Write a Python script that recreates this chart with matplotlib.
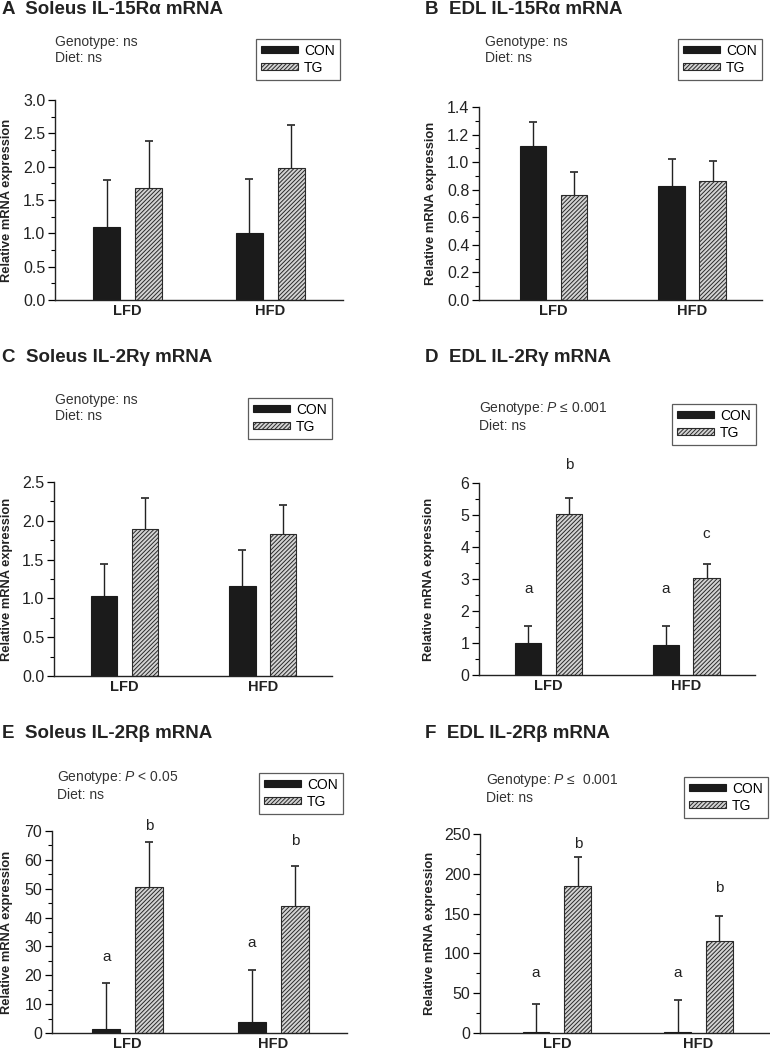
"""
Cytokine receptor mRNA in soleus and EDL muscle, CON vs TG mice on LFD / HFD
"""
import matplotlib
matplotlib.use('Agg')
import matplotlib.pyplot as plt
from matplotlib.patches import Patch

plt.rcParams['font.family'] = ['Liberation Sans', 'DejaVu Sans']
plt.rcParams['mathtext.fontset'] = 'custom'
plt.rcParams['mathtext.it'] = 'Liberation Sans:italic'
plt.rcParams['mathtext.rm'] = 'Liberation Sans'
plt.rcParams['hatch.linewidth'] = 0.7

### ------------------------------- ###
###             0. Data             ###
### ------------------------------- ###

diets = ['LFD', 'HFD']
genotypes = ['CON', 'TG']

titles = ['A  Soleus IL-15R\u03b1 mRNA', 'B  EDL IL-15R\u03b1 mRNA',
          'C  Soleus IL-2R\u03b3 mRNA', 'D  EDL IL-2R\u03b3 mRNA',
          'E  Soleus IL-2R\u03b2 mRNA', 'F  EDL IL-2R\u03b2 mRNA']
stats = ['Genotype: ns\nDiet: ns', 'Genotype: ns\nDiet: ns',
         'Genotype: ns\nDiet: ns', 'Genotype: $P$ \u2264 0.001\nDiet: ns',
         'Genotype: $P$ < 0.05\nDiet: ns', 'Genotype: $P$ \u2264  0.001\nDiet: ns']

# means (LFD, HFD) and upper error-bar tips
con_mean = [[1.10, 1.00], [1.12, 0.83], [1.03, 1.16], [1.00, 0.93], [1.5, 3.7], [1.5, 1.5]]
con_top = [[1.80, 1.82], [1.29, 1.02], [1.44, 1.63], [1.53, 1.53], [17.2, 21.7], [37, 42]]
tg_mean = [[1.68, 1.98], [0.76, 0.86], [1.89, 1.83], [5.02, 3.02], [50.7, 44.0], [185, 115]]
tg_top = [[2.39, 2.62], [0.93, 1.01], [2.30, 2.20], [5.52, 3.48], [66.3, 58.0], [221, 147]]

# significance letters (CON, TG) per diet, with heights in data units
con_letters = [None, None, None, ['a', 'a'], ['a', 'a'], ['a', 'a']]
tg_letters = [None, None, None, ['b', 'c'], ['b', 'b'], ['b', 'b']]
con_letter_y = [None, None, None, [2.7, 2.7], [26.3, 31.2], [75, 75]]
tg_letter_y = [None, None, None, [6.55, 4.4], [71.7, 66.5], [237, 182]]

y_max = [3.0, 1.4, 2.5, 6, 70, 250]
y_step = [0.5, 0.2, 0.5, 1, 10, 50]
y_fmt = ['%.1f', '%.1f', '%.1f', '%d', '%d', '%d']

### ------------------------------- ###
###            1. Layout            ###
### ------------------------------- ###

W, H = 770, 1050
# axes boxes in pixels: left, top, right, bottom
boxes = [(55, 100, 343, 300), (479, 107, 762, 300),
         (54, 482, 332, 676), (479, 483, 755, 675),
         (52, 831, 347, 1033), (480, 834, 770, 1033)]
xlims = [(-0.51, 1.51), (-0.54, 1.505), (-0.51, 1.50),
         (-0.505, 1.50), (-0.52, 1.505), (-0.544, 1.505)]
title_pos = [(2, 10), (425, 10), (2, 357), (425, 358), (2, 734), (425, 734)]
stat_pos = [(55, 35), (485, 35), (55, 393), (479, 400), (57, 769), (486, 772)]
legend_pos = [(256, 39), (678, 39), (248, 398), (672, 404), (259, 773), (684, 777)]
ylabel_x = [13, 437, 13, 435, 13, 436]

fig = plt.figure(figsize=(W / 100, H / 100), dpi=100)

con_style = dict(facecolor='#1b1b1b', edgecolor='#1b1b1b', linewidth=0.8)
tg_style = dict(facecolor='#d4d4d4', edgecolor='#2a2a2a', hatch='////////', linewidth=0.8)
err_style = dict(fmt='none', ecolor='#222222', elinewidth=1.0, capsize=3, capthick=1.2)

bw = 0.19
off = 0.148
x = [0, 1]

for i in range(6):
    l, t, r, b = boxes[i]
    ax = fig.add_axes([l / W, 1 - b / H, (r - l) / W, (b - t) / H])

    xc = [xi - off for xi in x]
    xt = [xi + off for xi in x]
    ax.bar(xc, con_mean[i], width=bw, zorder=2, **con_style)
    ax.bar(xt, tg_mean[i], width=bw, zorder=2, **tg_style)
    for xs, m, tp in [(xc, con_mean[i], con_top[i]), (xt, tg_mean[i], tg_top[i])]:
        eb = ax.errorbar(xs, m, yerr=[[0, 0], [tt - mm for tt, mm in zip(tp, m)]],
                         zorder=1, **err_style)
        eb[1][0].set_visible(False)  # hide lower caps

    if con_letters[i]:
        for j in range(2):
            ax.text(xc[j], con_letter_y[i][j], con_letters[i][j], ha='center', va='center',
                    fontsize=11, clip_on=False, color='#222222')
            ax.text(xt[j], tg_letter_y[i][j], tg_letters[i][j], ha='center', va='center',
                    fontsize=11, clip_on=False, color='#222222')

    # axes styling
    ax.set_xlim(*xlims[i])
    ax.set_ylim(0, y_max[i])
    n = int(round(y_max[i] / y_step[i]))
    ticks = [k * y_step[i] for k in range(n + 1)]
    ax.set_yticks(ticks)
    ax.set_yticklabels([y_fmt[i] % v for v in ticks], fontsize=11.5, color='#222222')
    ax.set_yticks([(k + 0.5) * y_step[i] for k in range(n)], minor=True)
    ax.tick_params(axis='y', which='major', direction='out', length=5, width=0.9, pad=2)
    ax.tick_params(axis='y', which='minor', direction='out', length=3, width=0.8)
    ax.set_xticks(x)
    ax.set_xticklabels(diets, fontsize=10.5, fontweight='bold', color='#222222')
    ax.tick_params(axis='x', length=0, pad=3)
    for s in ['top', 'right']:
        ax.spines[s].set_visible(False)
    for s in ['left', 'bottom']:
        ax.spines[s].set_linewidth(1.0)
        ax.spines[s].set_color('#222222')
    ax.set_ylabel('Relative mRNA expression', fontsize=9.3, fontweight='bold', color='#222222')
    ax.yaxis.set_label_coords((ylabel_x[i] - l) / (r - l), 0.5)

    # titles, stats, legend
    fig.text(title_pos[i][0] / W, 1 - title_pos[i][1] / H, titles[i], fontsize=13.5,
             fontweight='bold', va='center', ha='left', color='#222222')
    fig.text(stat_pos[i][0] / W, 1 - stat_pos[i][1] / H, stats[i], fontsize=10,
             va='top', ha='left', linespacing=1.2, color='#333333')

    handles = [Patch(**con_style), Patch(**tg_style)]
    leg = fig.legend(handles, genotypes, loc='upper left',
                     bbox_to_anchor=(legend_pos[i][0] / W, 1 - legend_pos[i][1] / H),
                     fontsize=10, frameon=True, fancybox=False, handlelength=2.7,
                     handleheight=0.4, handletextpad=0.4, labelspacing=0.2,
                     borderpad=0.35, borderaxespad=0)
    leg.get_frame().set_edgecolor('#333333')
    leg.get_frame().set_linewidth(0.9)

fig.savefig('out.png', dpi=100)
